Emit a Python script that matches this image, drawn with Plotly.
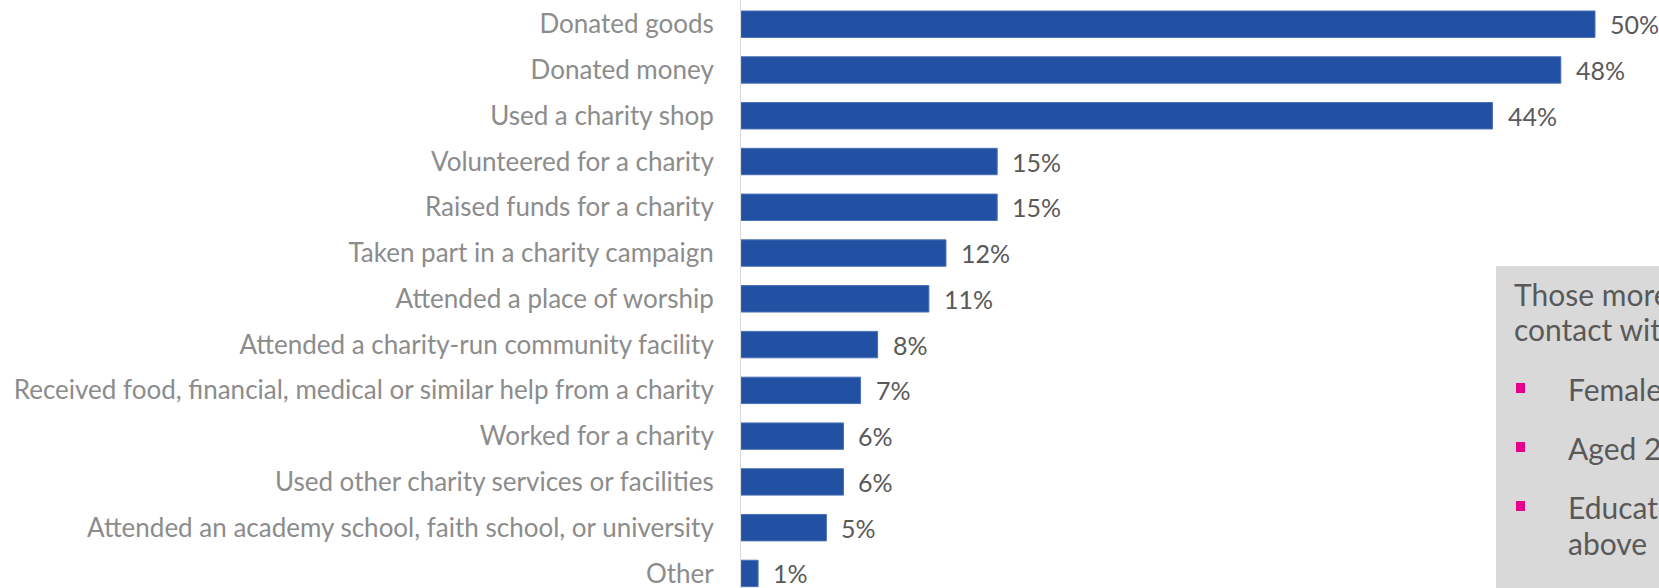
import plotly.graph_objects as go

# Share of respondents who had each kind of contact with a charity (%)
activities = [
    "Donated goods",
    "Donated money",
    "Used a charity shop",
    "Volunteered for a charity",
    "Raised funds for a charity",
    "Taken part in a charity campaign",
    "Attended a place of worship",
    "Attended a charity-run community facility",
    "Received food, financial, medical or similar help from a charity",
    "Worked for a charity",
    "Used other charity services or facilities",
    "Attended an academy school, faith school, or university",
    "Other",
]
shares = [50, 48, 44, 15, 15, 12, 11, 8, 7, 6, 6, 5, 1]

box_heading = ["Those more likely to have had", "contact with charities were:"]
box_bullets = [["Female"], ["Aged 25-54"], ["Educated to degree level or", "above"]]

W, H = 1659, 588
LEFT = 741
BAR_BLUE = "#2251A4"
FONT = "Lato"

fig = go.Figure()
fig.add_trace(go.Bar(
    x=shares,
    y=activities,
    orientation="h",
    width=0.577,
    marker=dict(color=BAR_BLUE, line=dict(color="#4a70b6", width=1)),
    hoverinfo="skip",
))

# value labels placed just past the end of each bar
for act, v in zip(activities, shares):
    fig.add_annotation(
        x=v, y=act, xref="x", yref="y",
        text=f"{v}%", showarrow=False,
        xanchor="left", yanchor="middle", xshift=13,
        font=dict(family=FONT, size=25, color="#595959"),
    )


def px_x(px):
    return (px - LEFT) / (W - LEFT)


def px_y(py):
    return 1 - py / H


# grey call-out panel on the right
fig.add_shape(
    type="rect", xref="paper", yref="paper",
    x0=px_x(1496), x1=1.0, y0=0.0, y1=px_y(266),
    fillcolor="#D9D9D9", line=dict(width=0), layer="above",
)

box_font = dict(family=FONT, size=30, color="#595959")
for i, line in enumerate(box_heading):
    fig.add_annotation(
        x=px_x(1512), y=px_y(294 + 35 * i), xref="paper", yref="paper",
        text=line, showarrow=False, xanchor="left", yanchor="middle",
        font=box_font,
    )

for j, item in enumerate(box_bullets):
    cy = 388 + 59 * j
    fig.add_shape(
        type="rect", xref="paper", yref="paper",
        x0=px_x(1516), x1=px_x(1525), y0=px_y(cy + 5), y1=px_y(cy - 5),
        fillcolor="#E6008A", line=dict(width=0), layer="above",
    )
    for k, line in enumerate(item):
        fig.add_annotation(
            x=px_x(1566), y=px_y(cy + 1 + 36 * k), xref="paper", yref="paper",
            text=line, showarrow=False, xanchor="left", yanchor="middle",
            font=box_font,
        )

fig.update_layout(
    width=W, height=H,
    margin=dict(l=LEFT, r=0, t=0, b=0),
    paper_bgcolor="white", plot_bgcolor="white",
    showlegend=False,
    xaxis=dict(range=[0, (W - LEFT) / 17.08], visible=False, fixedrange=True),
    yaxis=dict(
        type="category",
        range=[12.318, -0.529],
        showline=True, linecolor="#D9D9D9", linewidth=1,
        showgrid=False, zeroline=False,
        ticks="", ticklabelstandoff=21,
        tickfont=dict(family=FONT, size=26, color="#8C8C8C"),
        fixedrange=True,
    ),
)

fig.write_html("out.html")
